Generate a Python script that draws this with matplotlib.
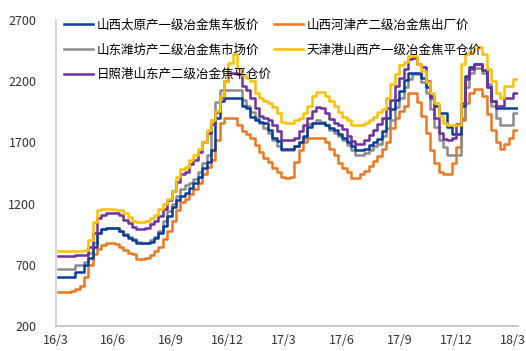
import matplotlib
matplotlib.use("Agg")
import matplotlib.pyplot as plt
import matplotlib.dates as mdates
import pandas as pd

plt.rcParams['font.family'] = ['Noto Sans CJK SC', 'DejaVu Sans']

# weekly prices, yuan/ton
weeks = pd.date_range('2016-03-04', periods=106, freq='7D')

taiyuan = [600, 600, 600, 600, 640, 640, 700, 760, 850, 960,
           990, 1000, 1000, 1000, 980, 940, 920, 900, 880, 880,
           880, 890, 920, 960, 1020, 1100, 1170, 1230, 1260, 1290,
           1330, 1370, 1420, 1490, 1540, 1640, 1900, 2040, 2060, 2060,
           2060, 2060, 2000, 1980, 1910, 1880, 1870, 1860, 1800, 1740,
           1710, 1650, 1650, 1650, 1670, 1700, 1750, 1830, 1860, 1860,
           1860, 1840, 1820, 1800, 1770, 1740, 1700, 1670, 1640, 1640,
           1650, 1680, 1700, 1730, 1790, 1900, 1970, 2050, 2120, 2210,
           2270, 2270, 2270, 2230, 2150, 2080, 2000, 1940, 1940, 1830,
           1770, 1770, 2000, 2240, 2320, 2340, 2340, 2290, 2150, 2040,
           1980, 1980, 1980, 1980, 1980, 1980]

hejin = [480, 480, 480, 490, 500, 530, 600, 700, 790, 830,
         860, 880, 880, 870, 850, 820, 800, 790, 750, 750,
         760, 780, 810, 850, 910, 980, 1060, 1150, 1210, 1240,
         1280, 1320, 1370, 1440, 1500, 1560, 1720, 1860, 1900, 1900,
         1900, 1840, 1790, 1770, 1740, 1680, 1620, 1570, 1540, 1490,
         1460, 1420, 1410, 1420, 1540, 1640, 1700, 1740, 1740, 1740,
         1740, 1700, 1650, 1600, 1530, 1490, 1460, 1410, 1410, 1440,
         1470, 1510, 1550, 1590, 1650, 1700, 1820, 1900, 1960, 2000,
         2100, 2100, 2030, 1920, 1780, 1640, 1530, 1460, 1440, 1440,
         1530, 1660, 1880, 2020, 2100, 2140, 2140, 2080, 1930, 1800,
         1700, 1650, 1690, 1740, 1800, 1800]

weifang = [670, 670, 670, 670, 700, 700, 720, 800, 880, 960,
           990, 1000, 1000, 1000, 980, 950, 930, 910, 890, 880,
           880, 900, 930, 980, 1060, 1140, 1200, 1260, 1320, 1350,
           1370, 1400, 1460, 1530, 1600, 1880, 2030, 2130, 2130, 2130,
           2130, 2130, 2050, 2000, 1950, 1900, 1860, 1820, 1780, 1720,
           1670, 1640, 1640, 1640, 1670, 1700, 1740, 1850, 1860, 1880,
           1870, 1840, 1800, 1780, 1750, 1720, 1680, 1640, 1600, 1600,
           1610, 1640, 1670, 1690, 1750, 1820, 1880, 1990, 2060, 2150,
           2220, 2260, 2260, 2190, 2100, 1970, 1830, 1720, 1660, 1600,
           1600, 1600, 1900, 2150, 2270, 2310, 2310, 2270, 2180, 2000,
           1900, 1840, 1840, 1840, 1940, 1940]

tianjin = [810, 810, 810, 810, 810, 810, 820, 900, 1050, 1150,
           1160, 1160, 1160, 1150, 1150, 1120, 1090, 1060, 1050, 1050,
           1060, 1080, 1110, 1160, 1200, 1240, 1300, 1420, 1480, 1500,
           1560, 1600, 1650, 1700, 1800, 1880, 1960, 2080, 2200, 2350,
           2420, 2300, 2250, 2230, 2200, 2100, 2060, 2040, 2020, 1990,
           1940, 1870, 1860, 1860, 1880, 1900, 1940, 2000, 2080, 2110,
           2110, 2080, 2040, 2000, 1950, 1910, 1880, 1840, 1840, 1840,
           1860, 1880, 1910, 1950, 1970, 2060, 2180, 2260, 2330, 2360,
           2410, 2410, 2340, 2280, 2190, 2100, 2020, 1920, 1860, 1840,
           1840, 1840, 2340, 2420, 2440, 2470, 2480, 2420, 2300, 2200,
           2100, 2060, 2160, 2160, 2220, 2220]

rizhao = [770, 770, 770, 770, 780, 780, 780, 850, 960, 1080,
          1110, 1120, 1120, 1120, 1110, 1070, 1040, 1010, 990, 990,
          1000, 1030, 1060, 1100, 1160, 1230, 1300, 1380, 1440, 1460,
          1520, 1560, 1620, 1700, 1780, 1850, 1950, 2070, 2200, 2270,
          2270, 2260, 2160, 2130, 2060, 1980, 1920, 1900, 1880, 1840,
          1790, 1720, 1720, 1720, 1740, 1790, 1840, 1900, 1960, 1990,
          1980, 1940, 1890, 1860, 1840, 1810, 1750, 1710, 1690, 1690,
          1720, 1760, 1800, 1850, 1900, 1980, 2050, 2160, 2230, 2300,
          2380, 2390, 2340, 2320, 2200, 2060, 1900, 1780, 1730, 1720,
          1740, 1850, 2020, 2220, 2300, 2340, 2340, 2290, 2150, 2040,
          2000, 2000, 2060, 2060, 2100, 2100]

fig = plt.figure(figsize=(5.26, 3.51), dpi=100)
ax = fig.add_axes([0.106, 0.071, 0.879, 0.872])

# legend fills column by column: blue/gray/purple left, orange/yellow right
series = [
    (taiyuan, '#0A3D9C', '山西太原产一级冶金焦车板价'),
    (weifang, '#8C8C8C', '山东潍坊产二级冶金焦市场价'),
    (rizhao, '#7030A0', '日照港山东产二级冶金焦平仓价'),
    (hejin, '#EE7720', '山西河津产二级冶金焦出厂价'),
    (tianjin, '#FFC000', '天津港山西产一级冶金焦平仓价'),
]
draw_order = [3, 1, 0, 2, 4]
lines = {}
for k in draw_order:
    vals, col, name = series[k]
    ln, = ax.plot(weeks, vals, drawstyle='steps-post', color=col, lw=1.8, label=name)
    lines[k] = ln

ax.set_ylim(200, 2700)
ax.set_yticks(range(200, 2701, 500))
ax.set_xlim(pd.Timestamp('2016-03-01'), pd.Timestamp('2018-03-10'))
ticks = pd.date_range('2016-03-01', '2018-03-01', freq='3MS')
ax.set_xticks(ticks)
ax.xaxis.set_major_formatter(mdates.DateFormatter('%y/%-m'))

for s in ['top', 'right']:
    ax.spines[s].set_visible(False)
ax.spines['left'].set_color('#D0D0D0')
ax.spines['bottom'].set_color('#C0C0C0')
ax.spines['left'].set_linewidth(1.2)
ax.spines['bottom'].set_linewidth(1.2)
ax.tick_params(length=0, labelsize=9, colors='#333333', pad=6)
ax.tick_params(axis='y', pad=14)

ax.legend([lines[k] for k in range(5)], [series[k][2] for k in range(5)],
          ncol=2, loc='upper left', bbox_to_anchor=(0.112, 0.962),
          bbox_transform=fig.transFigure, frameon=False, fontsize=9,
          handlelength=2.3, handletextpad=0.3, columnspacing=0.2,
          labelspacing=0.95, borderaxespad=0)

fig.savefig('out.png', dpi=100)
